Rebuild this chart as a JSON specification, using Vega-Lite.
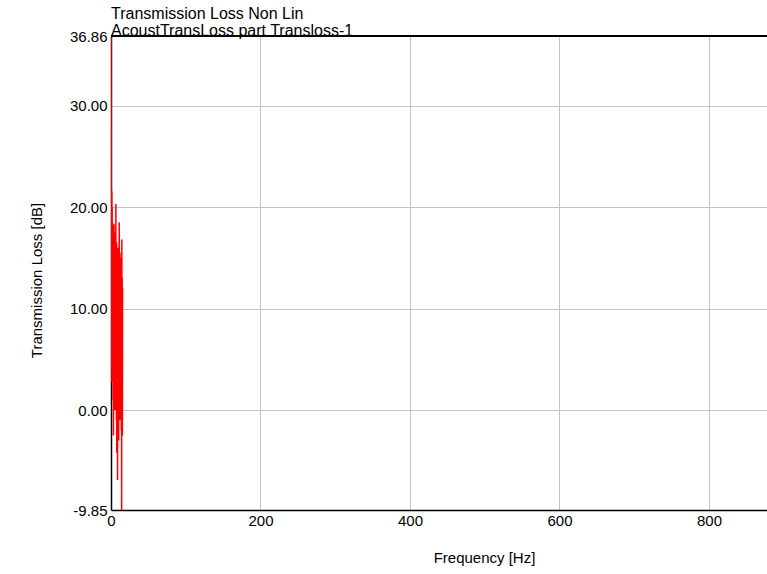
{
  "$schema": "https://vega.github.io/schema/vega-lite/v6.json",
  "autosize": "none",
  "width": 656,
  "height": 474,
  "padding": {"left": 111, "top": 36, "right": 0, "bottom": 64},
  "background": "white",
  "config": {
    "view": {"stroke": null},
    "font": "Liberation Sans",
    "locale": {"number": {"decimal": ".", "thousands": ",", "grouping": [3], "currency": ["$", ""], "minus": "-"}}
  },
  "title": {
    "text": ["Transmission Loss Non Lin", "AcoustTransLoss part Transloss-1"],
    "anchor": "start",
    "frame": "group",
    "fontSize": 16,
    "fontWeight": "normal",
    "color": "black",
    "font": "Liberation Sans",
    "lineHeight": 17,
    "offset": 0,
    "baseline": "bottom",
    "dy": 26
  },
  "data": {
    "values": [
      {"f": 0, "v": 36.86}, {"f": 0.25, "v": 14}, {"f": 0.5, "v": 21.7}, {"f": 0.75, "v": 4},
      {"f": 1.0, "v": 21.5}, {"f": 1.25, "v": 2.8}, {"f": 1.5, "v": 20}, {"f": 1.75, "v": 9},
      {"f": 2.0, "v": 18.5}, {"f": 2.25, "v": 5}, {"f": 2.5, "v": 18}, {"f": 2.75, "v": 1},
      {"f": 3.0, "v": 17}, {"f": 3.25, "v": -2.5}, {"f": 3.5, "v": 16}, {"f": 3.75, "v": 3},
      {"f": 4.0, "v": 18.3}, {"f": 4.25, "v": 6}, {"f": 4.5, "v": 15}, {"f": 4.75, "v": 1.5},
      {"f": 5.0, "v": 17.5}, {"f": 5.25, "v": 0}, {"f": 5.5, "v": 14}, {"f": 5.75, "v": 4},
      {"f": 6.0, "v": 16}, {"f": 6.25, "v": 2}, {"f": 6.5, "v": 20.3}, {"f": 6.75, "v": 1},
      {"f": 7.0, "v": 15.5}, {"f": 7.25, "v": -1}, {"f": 7.5, "v": 16.5}, {"f": 7.75, "v": -4.2},
      {"f": 8.0, "v": 15}, {"f": 8.25, "v": 3}, {"f": 8.5, "v": 14.5}, {"f": 8.75, "v": -6.9},
      {"f": 9.0, "v": 16}, {"f": 9.25, "v": 0}, {"f": 9.5, "v": 15}, {"f": 9.75, "v": 2},
      {"f": 10.0, "v": 14}, {"f": 10.25, "v": -3}, {"f": 10.5, "v": 16}, {"f": 10.75, "v": 1},
      {"f": 11.0, "v": 18.5}, {"f": 11.25, "v": 0.5}, {"f": 11.5, "v": 14}, {"f": 11.75, "v": -1},
      {"f": 12.0, "v": 15.5}, {"f": 12.25, "v": 2}, {"f": 12.5, "v": 13}, {"f": 12.75, "v": -0.5},
      {"f": 13.0, "v": 14.5}, {"f": 13.25, "v": 1}, {"f": 13.5, "v": 15}, {"f": 13.75, "v": -2},
      {"f": 14.0, "v": 14}, {"f": 14.25, "v": -9.85}, {"f": 14.5, "v": 16.8}, {"f": 14.75, "v": 0},
      {"f": 15.0, "v": 13}, {"f": 15.25, "v": -2.5}, {"f": 15.5, "v": 12}
    ]
  },
  "layer": [
    {
      "mark": {"type": "line", "color": "#ff0000", "strokeWidth": 1.5, "clip": true},
      "encoding": {
        "x": {
          "field": "f", "type": "quantitative",
          "scale": {"domain": [0, 877.6], "nice": false, "zero": false},
          "axis": {
            "values": [0, 200, 400, 600, 800],
            "format": "d",
            "title": "Frequency [Hz]",
            "titleFontSize": 15,
            "titleFontWeight": "normal",
            "titleColor": "black",
            "titleX": 373,
            "titleY": 47,
            "titleAnchor": "middle",
            "titleBaseline": "middle",
            "labelFontSize": 15,
            "labelColor": "black",
            "labelPadding": 3,
            "labelFlush": false,
            "ticks": false,
            "domainColor": "black",
            "domainWidth": 1.5,
            "grid": true,
            "gridColor": "#c4c4c4",
            "gridWidth": 1
          }
        },
        "y": {
          "field": "v", "type": "quantitative",
          "scale": {"domain": [-9.85, 36.86], "nice": false, "zero": false},
          "axis": {
            "values": [-9.85, 0, 10, 20, 30, 36.86],
            "format": ".2f",
            "title": "Transmission Loss [dB]",
            "titleFontSize": 15,
            "titleFontWeight": "normal",
            "titleColor": "black",
            "titleX": -75,
            "titleY": 244,
            "titleAnchor": "middle",
            "titleBaseline": "middle",
            "labelFontSize": 15,
            "labelColor": "black",
            "labelPadding": 4,
            "labelFlush": false,
            "ticks": false,
            "domainColor": "black",
            "domainWidth": 1.5,
            "grid": true,
            "gridColor": "#c4c4c4",
            "gridWidth": 1
          }
        }
      }
    },
    {
      "mark": {"type": "rule", "color": "black", "strokeWidth": 1.5},
      "encoding": {"y": {"datum": 36.86}}
    }
  ]
}
